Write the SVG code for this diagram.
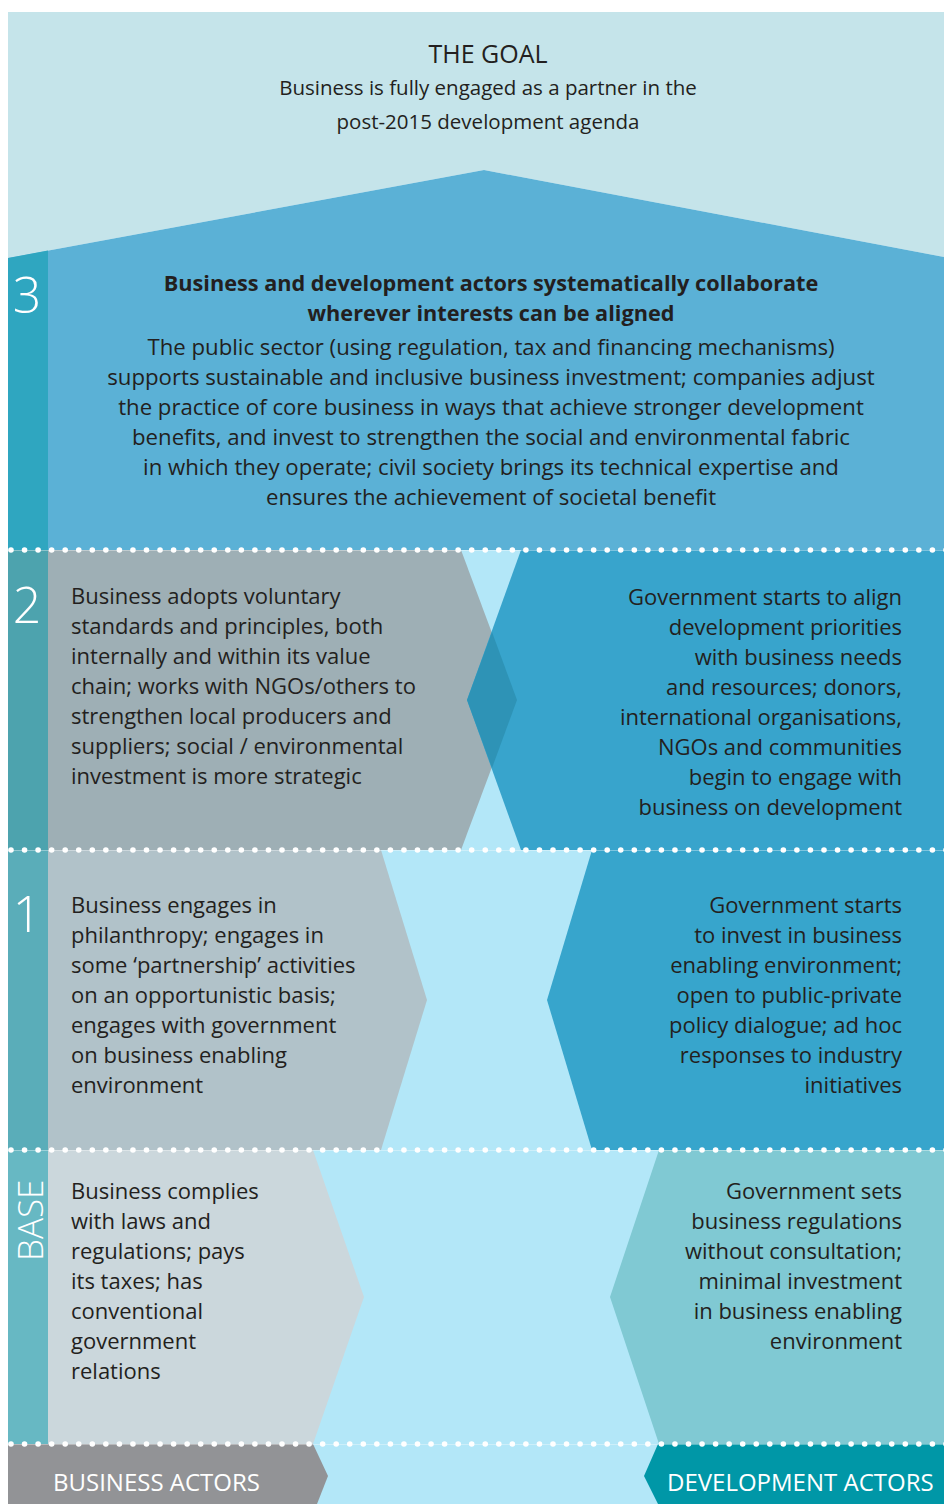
<svg xmlns="http://www.w3.org/2000/svg" width="944" height="1504" viewBox="0 0 944 1504">
<style>
.t{font-family:"Open Sans","Noto Sans","Liberation Sans",sans-serif;font-size:22px;fill:#231f20}
.b{font-weight:bold;font-size:21.7px}
.w{font-size:22.2px}
.c{text-anchor:middle}
.r{text-anchor:end}
.num{font-family:"Open Sans","Noto Sans","Liberation Sans",sans-serif;font-weight:300;font-size:50px;fill:#ffffff;text-anchor:middle}
.lab{font-family:"Open Sans","Noto Sans","Liberation Sans",sans-serif;font-size:24px;fill:#ffffff}
.dots{stroke:#ffffff;stroke-width:5.6;stroke-linecap:round;stroke-dasharray:0 13.55;fill:none}
.thin{stroke:#ffffff;stroke-opacity:0.35;stroke-width:1}
</style>
<rect x="0" y="0" width="944" height="1504" fill="#ffffff"/>
<rect x="8" y="550" width="936" height="954" fill="#b3e7f8"/>

<g id="goal">
<polygon points="8,12 944,12 944,257 484,170 8,258" fill="#c5e4ea"/>
<text class="t c" x="488" y="63" style="font-size:25px">THE GOAL</text>
<text class="t c" x="488" y="95" style="font-size:20.5px">Business is fully engaged as a partner in the</text>
<text class="t c" x="488" y="129" style="font-size:20.5px">post-2015 development agenda</text>
</g>

<g id="level3">
<polygon points="8,258 484,170 944,257 944,550 8,550" fill="#5bb1d6"/>
<polygon points="8,258 48,250.6 48,550 8,550" fill="#2fa6c0"/>
<text class="num" x="27" y="313">3</text>
<text class="t c b" x="491" y="291">Business and development actors systematically collaborate</text>
<text class="t c b" x="491" y="321">wherever interests can be aligned</text>
<text class="t c w" x="491" y="355">The public sector (using regulation, tax and financing mechanisms)</text>
<text class="t c w" x="491" y="385">supports sustainable and inclusive business investment; companies adjust</text>
<text class="t c w" x="491" y="415">the practice of core business in ways that achieve stronger development</text>
<text class="t c w" x="491" y="445">benefits, and invest to strengthen the social and environmental fabric</text>
<text class="t c w" x="491" y="475">in which they operate; civil society brings its technical expertise and</text>
<text class="t c w" x="491" y="505">ensures the achievement of societal benefit</text>
</g>

<g id="level2">
<rect x="8" y="550" width="40" height="300" fill="#4da3ae"/>
<text class="num" x="27" y="623">2</text>
<g id="level2-business">
<polygon points="48,550 461,550 517,700 461,850 48,850" fill="#9eafb5"/>
<text class="t" x="71" y="604">Business adopts voluntary</text>
<text class="t" x="71" y="634">standards and principles, both</text>
<text class="t" x="71" y="664">internally and within its value</text>
<text class="t" x="71" y="694">chain; works with NGOs/others to</text>
<text class="t" x="71" y="724">strengthen local producers and</text>
<text class="t" x="71" y="754">suppliers; social / environmental</text>
<text class="t" x="71" y="784">investment is more strategic</text>
</g>
<g id="level2-development">
<polygon points="944,550 521,550 467,700 521,850 944,850" fill="#38a4cc"/>
<polygon points="467,700 492,632 517,700 492,768" fill="#2e93b6"/>
<text class="t r" x="902" y="605">Government starts to align</text>
<text class="t r" x="902" y="635">development priorities</text>
<text class="t r" x="902" y="665">with business needs</text>
<text class="t r" x="902" y="695">and resources; donors,</text>
<text class="t r" x="902" y="725">international organisations,</text>
<text class="t r" x="902" y="755">NGOs and communities</text>
<text class="t r" x="902" y="785">begin to engage with</text>
<text class="t r" x="902" y="815">business on development</text>
</g>
</g>

<g id="level1">
<rect x="8" y="850" width="40" height="300" fill="#5aadb9"/>
<text class="num" x="27" y="932">1</text>
<g id="level1-business">
<polygon points="48,850 381,850 427,1000 381,1150 48,1150" fill="#b1c2c9"/>
<text class="t" x="71" y="913">Business engages in</text>
<text class="t" x="71" y="943">philanthropy; engages in</text>
<text class="t" x="71" y="973">some ‘partnership’ activities</text>
<text class="t" x="71" y="1003">on an opportunistic basis;</text>
<text class="t" x="71" y="1033">engages with government</text>
<text class="t" x="71" y="1063">on business enabling</text>
<text class="t" x="71" y="1093">environment</text>
</g>
<g id="level1-development">
<polygon points="944,850 592,850 547,1000 592,1150 944,1150" fill="#37a5cc"/>
<text class="t r" x="902" y="913">Government starts</text>
<text class="t r" x="902" y="943">to invest in business</text>
<text class="t r" x="902" y="973">enabling environment;</text>
<text class="t r" x="902" y="1003">open to public-private</text>
<text class="t r" x="902" y="1033">policy dialogue; ad hoc</text>
<text class="t r" x="902" y="1063">responses to industry</text>
<text class="t r" x="902" y="1093">initiatives</text>
</g>
</g>

<g id="base">
<rect x="8" y="1150" width="40" height="294" fill="#67b8c3"/>
<text transform="translate(43,1261) rotate(-90)" style="font-family:'Open Sans','Noto Sans','Liberation Sans',sans-serif;font-weight:300;font-size:35px;fill:#ffffff">BASE</text>
<g id="base-business">
<polygon points="48,1150 313,1150 364,1297 313,1444 48,1444" fill="#cbd7dc"/>
<text class="t" x="71" y="1199">Business complies</text>
<text class="t" x="71" y="1229">with laws and</text>
<text class="t" x="71" y="1259">regulations; pays</text>
<text class="t" x="71" y="1289">its taxes; has</text>
<text class="t" x="71" y="1319">conventional</text>
<text class="t" x="71" y="1349">government</text>
<text class="t" x="71" y="1379">relations</text>
</g>
<g id="base-development">
<polygon points="944,1150 659,1150 610,1297 659,1444 944,1444" fill="#80c9d3"/>
<text class="t r" x="902" y="1199">Government sets</text>
<text class="t r" x="902" y="1229">business regulations</text>
<text class="t r" x="902" y="1259">without consultation;</text>
<text class="t r" x="902" y="1289">minimal investment</text>
<text class="t r" x="902" y="1319">in business enabling</text>
<text class="t r" x="902" y="1349">environment</text>
</g>
</g>

<g id="business-actors">
<polygon points="8,1444 313,1444 328,1476 317,1504 8,1504" fill="#929396"/>
<text class="lab" x="53" y="1491">BUSINESS ACTORS</text>
</g>
<g id="development-actors">
<polygon points="944,1444 658,1444 644,1476 658,1504 944,1504" fill="#0097a7"/>
<text class="lab" x="667" y="1491">DEVELOPMENT ACTORS</text>
</g>

<g id="dividers">
<line class="thin" x1="8" y1="550.5" x2="944" y2="550.5"/>
<line class="thin" x1="8" y1="850.5" x2="944" y2="850.5"/>
<line class="thin" x1="8" y1="1150.5" x2="944" y2="1150.5"/>
<line class="thin" x1="8" y1="1444.5" x2="944" y2="1444.5"/>
<line class="dots" x1="11" y1="550" x2="950" y2="550"/>
<line class="dots" x1="11" y1="850" x2="950" y2="850"/>
<line class="dots" x1="11" y1="1150" x2="950" y2="1150"/>
<line class="dots" x1="11" y1="1444" x2="950" y2="1444"/>
</g>
</svg>
